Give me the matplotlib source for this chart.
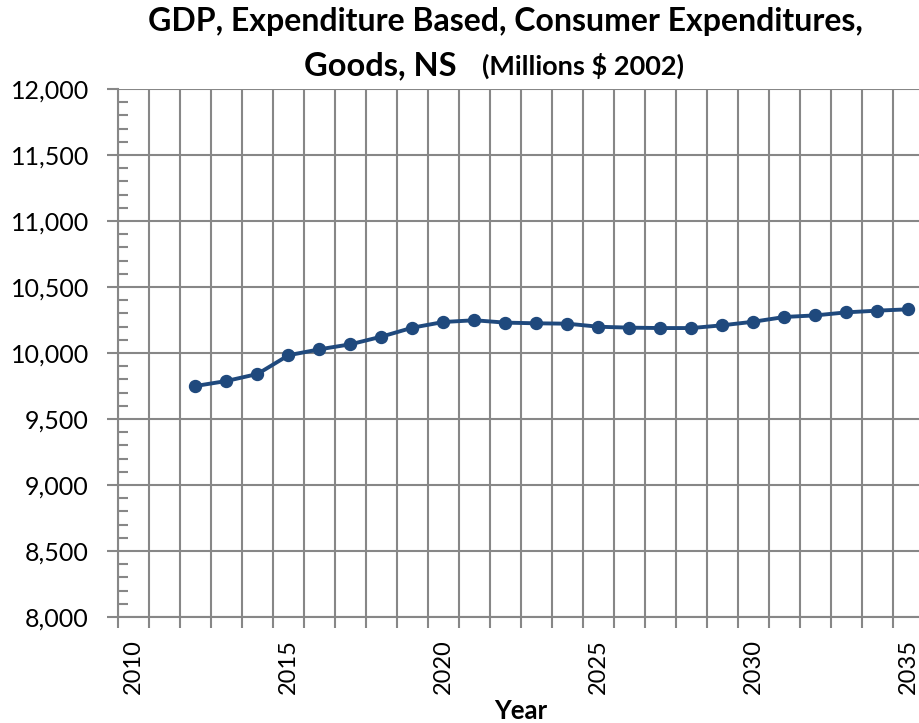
import numpy as np
import matplotlib
matplotlib.use("Agg")
import matplotlib.pyplot as plt
from matplotlib.ticker import FuncFormatter, MultipleLocator

plt.rcParams['font.family'] = ['Lato', 'DejaVu Sans']

# data
years = list(range(2012, 2036))
values = [9750, 9788, 9841, 9983, 10028, 10066, 10124, 10192, 10235, 10248,
          10230, 10225, 10222, 10199, 10192, 10189, 10189, 10210, 10237, 10273,
          10285, 10308, 10321, 10331]
year_labels = [2010, 2015, 2020, 2025, 2030, 2035]

title_line1 = "GDP, Expenditure Based, Consumer Expenditures,"
title_line2 = "Goods, NS"
title_units = "(Millions $ 2002)"

grey = "#878787"
blue = "#1F497D"

fig = plt.figure(figsize=(9.19, 7.23), dpi=100)
ax = fig.add_axes([118 / 919, 1 - 617 / 723, 806 / 919, 528 / 723])

ax.plot(years, values, color=blue, lw=2.8, marker="o", ms=8.6, zorder=3)

ax.set_xlim(2009.5, 2035.5)
ax.set_ylim(8000, 12000)

# x: labels at category centres, grid and ticks at the boundaries
ax.set_xticks(year_labels)
ax.set_xticklabels([str(y) for y in year_labels], rotation=90)
ax.set_xticks(np.arange(2009.5, 2036, 1), minor=True)
ax.tick_params(axis="x", which="major", length=0, pad=16, labelsize=17)
ax.tick_params(axis="x", which="minor", length=8, width=1.5, color=grey,
               direction="out")
ax.grid(True, axis="x", which="minor", color=grey, lw=1.5)

# y: major every 500, minor every 100
ax.yaxis.set_major_locator(MultipleLocator(500))
ax.yaxis.set_minor_locator(MultipleLocator(100))
ax.yaxis.set_major_formatter(FuncFormatter(lambda v, p: f"{int(v):,}"))
ax.tick_params(axis="y", which="major", length=8, width=1.5, color=grey,
               direction="out", pad=13, labelsize=18)
ax.tick_params(axis="y", which="minor", length=7, width=1.5, color=grey,
               direction="in")
ax.grid(True, axis="y", which="major", color=grey, lw=1.5)

for side in ["top", "right"]:
    ax.spines[side].set_visible(False)
for side in ["left", "bottom"]:
    ax.spines[side].set_color(grey)
    ax.spines[side].set_linewidth(1.5)

ax.set_axisbelow(True)

fig.text(505 / 919, 1 - 31 / 723, title_line1, ha="center", va="baseline",
         fontsize=23, fontweight="bold")
fig.text(457 / 919, 1 - 75 / 723, title_line2, ha="right", va="baseline",
         fontsize=23.5, fontweight="bold")
fig.text(482 / 919, 1 - 75 / 723, title_units, ha="left", va="baseline",
         fontsize=19.5, fontweight="bold")
fig.text(521 / 919, 1 - 719 / 723, "Year", ha="center", va="baseline",
         fontsize=18.5, fontweight="bold")

fig.savefig("out.png", dpi=100)
